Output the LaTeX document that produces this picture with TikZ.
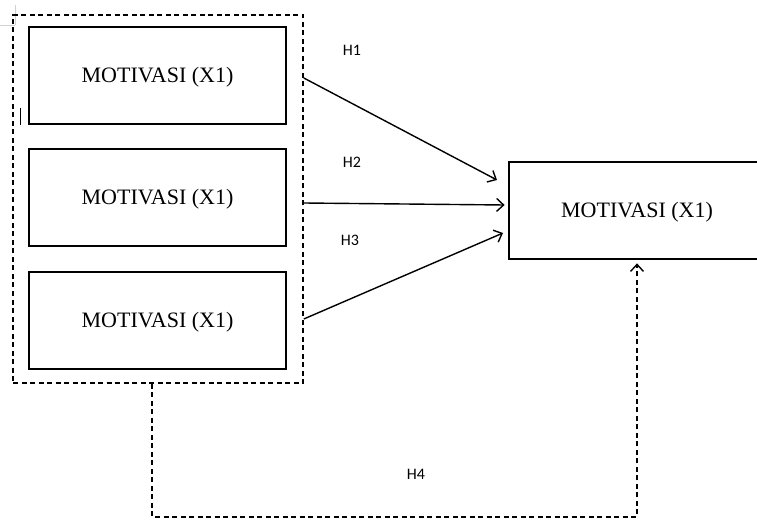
\documentclass[tikz,border=0pt]{standalone}
\usepackage{fontspec}
\setmainfont{Liberation Serif}
\newfontfamily\lblfont{Carlito}
\usetikzlibrary{arrows.meta}
\begin{document}
\begin{tikzpicture}[x=1pt,y=-1pt,
  varbox/.style={draw=black,line width=2.8pt,minimum width=257pt,minimum height=97pt,inner sep=0pt,font=\fontsize{22}{26}\selectfont},
  boxtext/.style={inner sep=0pt,font=\fontsize{22}{26}\selectfont},
  grp/.style={draw=black,line width=1.6pt,dash pattern=on 5pt off 3.5pt},
  hyp/.style={line width=1.4pt,-{Straight Barb[length=7pt,width=13pt,line width=1.4pt]}},
  dhyp/.style={line width=1.6pt,dash pattern=on 5pt off 3.5pt,-{Straight Barb[length=7pt,width=13pt,line width=1.4pt]}},
  hlabel/.style={font=\lblfont\fontsize{16}{19}\selectfont,inner sep=0pt}]
\useasboundingbox (0,0) rectangle (757,521);
% artifacts
\draw[gray!35,line width=0.8pt] (0,25) -- (15,25) (15,5) -- (15,25);
\draw[black,line width=1pt] (20,108) -- (20,125);
% group box
\node[grp,minimum width=290pt,minimum height=368pt,inner sep=0pt] (g) at (158,199) {};
\node[varbox] (b1) at (157.5,75.5) {};
\node[varbox] (b2) at (157.5,197.5) {};
\node[varbox] (b3) at (157.5,320.5) {};
\node[varbox,minimum width=250pt] (y) at (634,210.5) {};
\node[boxtext] (t1l) at (157.5,77.5) {MOTIVASI (X1)};
\node[boxtext] (t2l) at (157.5,199.5) {MOTIVASI (X1)};
\node[boxtext] (t3l) at (157.5,322.5) {MOTIVASI (X1)};
\node[boxtext] (tyl) at (637,212.5) {MOTIVASI (X1)};
% free ends near the dependent box
\coordinate (e1) at (497,180);
\coordinate (e3) at (503,233);
\draw[hyp] ([yshift=-2.5pt]g.east |- b1.east) -- (e1);
\draw[hyp] ([yshift=-5.5pt]g.east |- b2.east) -- ([yshift=5.5pt,xshift=-3pt]y.west);
\draw[hyp] ([yshift=1.5pt]g.east |- b3.east) -- (e3);
\draw[dhyp] ([xshift=-6pt]g.south) -- ++(0,133) -| ([xshift=3pt,yshift=-3pt]y.south);
\node[hlabel] (h1) at (352,50) {H1};
\node[hlabel] (h2) at (352,162) {H2};
\node[hlabel] (h3) at (350,240) {H3};
\node[hlabel] (h4) at (416,474) {H4};
\end{tikzpicture}
\end{document}
